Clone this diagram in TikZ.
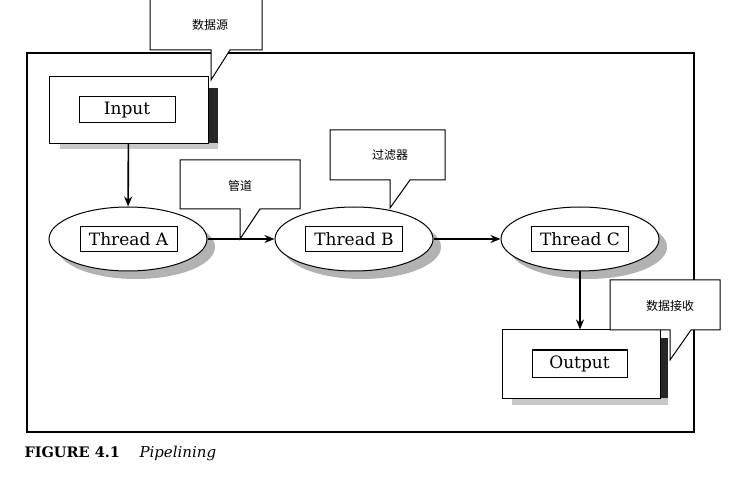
\documentclass[tikz,border=0pt]{standalone}
\usepackage{fontspec}
\setmainfont{DejaVu Serif}
\newfontfamily\cjk{Noto Sans CJK SC}
\usetikzlibrary{shapes.geometric,arrows.meta,backgrounds}

\tikzset{every picture/.style={line width=1pt}}
\tikzset{
  outbox/.style={draw,fill=white,minimum width=159,minimum height=67,inner sep=0},
  lblbox/.style={draw,fill=white,minimum width=96,minimum height=26,inner sep=0,font=\fontsize{17}{19}\selectfont},
  thread/.style={draw,ellipse,fill=white,minimum width=158,minimum height=64,inner sep=0},
  flow/.style={line width=1.6pt,-{Stealth[length=10pt,width=8pt]}},
  callout/.style={draw,fill=white,line join=miter},
  note/.style={font=\cjk\fontsize{12}{14}\selectfont,inner sep=0},
}

\begin{document}
\begin{tikzpicture}[x=1pt,y=1pt,yscale=-1]
\useasboundingbox (0,0) rectangle (731,478);

%Shape: Frame
\draw[line width=1.8pt] (27,53) rectangle (694,432);

% Input / Output boxes
\node[outbox] (input) at (128.5,110) {};
\node[lblbox] (inputlbl) at (127,110) {Input};
\node[outbox,minimum width=158,minimum height=68] (output) at (581,364) {};
\node[lblbox,minimum width=95,minimum height=27] (outputlbl) at (579.5,363.5) {Output};

% Threads
\node[thread] (thrA) at (128,239) {};
\node[lblbox,minimum width=97,minimum height=25] (thrAlbl) at (128.5,239.5) {Thread A};
\node[thread] (thrB) at (354,239) {};
\node[lblbox,minimum width=97,minimum height=25] (thrBlbl) at (354,239.5) {Thread B};
\node[thread] (thrC) at (580,239) {};
\node[lblbox,minimum width=97,minimum height=25] (thrClbl) at (580,239.5) {Thread C};

% Shadows
\begin{scope}[on background layer]
\fill[black!85] (208,88) rectangle (218,148);
\fill[black!22] (60,143) rectangle (218,149);
\fill[black!85] (660,338) rectangle (668,400);
\fill[black!22] (512,398) rectangle (668,405);
\fill[black!30] ([shift={(8,8)}]thrA.center) ellipse [x radius=79,y radius=32];
\fill[black!30] ([shift={(8,8)}]thrB.center) ellipse [x radius=79,y radius=32];
\fill[black!30] ([shift={(8,8)}]thrC.center) ellipse [x radius=79,y radius=32];
\end{scope}

% Connectors
\draw[flow] (input) -- (thrA);
\draw[flow] (thrA) -- (thrB);
\draw[flow] (thrB) -- (thrC);
\draw[flow] (thrC.south) -- (thrC.south |- output.north);

%Shape: Callout
\draw[callout] (150,-5) -- (262,-5) -- (262,50) -- (230,50) -- (211,80) -- (211,50) -- (150,50) -- cycle;
\node[note] (src) at (210,25) {数据源};
%Shape: Callout
\draw[callout] (180,160) -- (300,160) -- (300,209) -- (260,209) -- (240,239) -- (240,209) -- (180,209) -- cycle;
\node[note] (pipe) at (240,186) {管道};
%Shape: Callout
\draw[callout] (330,130) -- (445,130) -- (445,180) -- (410,180) -- (390,208) -- (390,180) -- (330,180) -- cycle;
\node[note] (filt) at (390,155) {过滤器};
%Shape: Callout
\draw[callout] (610,280) -- (720,280) -- (720,330) -- (691,330) -- (670,360) -- (670,330) -- (610,330) -- cycle;
\node[note] (sink) at (670,306) {数据接收};

% Caption
\node[anchor=base west,inner sep=0,font=\fontsize{14.5}{16}\selectfont\bfseries] (fignum) at (24,457) {FIGURE 4.1};
\node[anchor=base west,inner sep=0,font=\fontsize{15}{17}\selectfont\itshape] (figtitle) at (139,457) {Pipelining};

\end{tikzpicture}
\end{document}
